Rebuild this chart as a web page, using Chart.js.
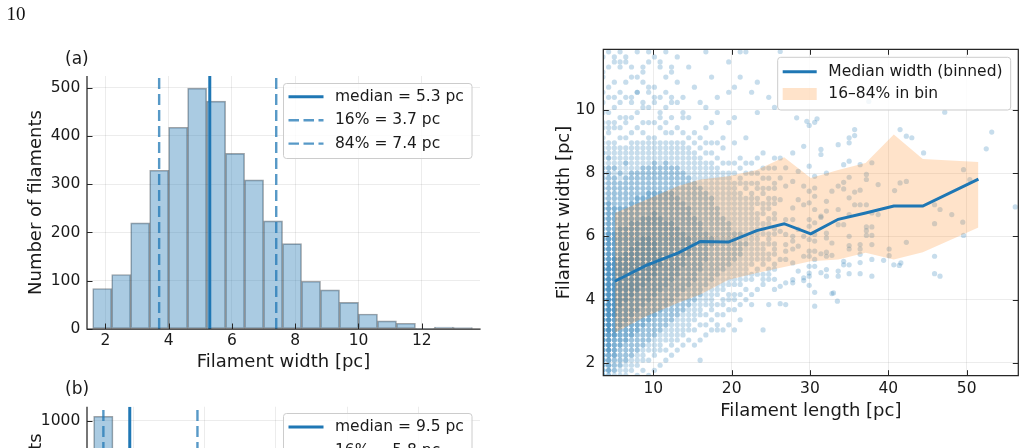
<!DOCTYPE html>
<html><head><meta charset="utf-8">
<script src="https://cdn.jsdelivr.net/npm/chart.js@4.4.0/dist/chart.umd.min.js"></script>
<style>
html,body{margin:0;padding:0;width:1026px;height:448px;overflow:hidden;background:#fff;}
canvas{position:absolute;}
#pg{position:absolute;left:6.5px;top:4px;font:19px/19px "Liberation Serif","DejaVu Serif",serif;color:#111;}
</style></head><body>
<canvas id="ca" width="500" height="380" style="left:0;top:0"></canvas>
<canvas id="cb" width="500" height="316" style="left:0;top:380px"></canvas>
<canvas id="cc" width="486" height="448" style="left:540px;top:0"></canvas>
<div id="pg">10</div>
<script>
// ---------- panel (a): filament width histogram ----------
const widthBinCenters = [1.9,2.5,3.1,3.7,4.3,4.9,5.5,6.1,6.7,7.3,7.9,8.5,9.1,9.7,10.3,10.9,11.5,12.1,12.7,13.3];
const widthCounts = [84,113,220,329,418,499,472,364,309,224,177,99,81,55,31,17,12,1,4,3];
const widthMedian = 5.3, widthP16 = 3.7, widthP84 = 7.4;
const widthTicks = [2,4,6,8,10,12];
const countTicksA = [0,100,200,300,400,500];

// ---------- panel (b): filament length histogram (only its top is visible) ----------
const lengthBinCenters = [5.79,8.51,11.23,13.95,16.67,19.39,22.11,24.83,27.55,30.27,32.99,35.71,38.43,41.15,43.87,46.59,49.31,52.03,54.75,57.47];
const lengthCounts = [1020,840,460,300,210,175,130,100,75,55,40,30,22,17,12,9,7,5,3,2];
const lengthMedian = 9.5, lengthP16 = 5.8, lengthP84 = 19.0;
const lengthTicksB = [10,20,30,40,50];
const countTicksB = [0,200,400,600,800,1000];

// ---------- right panel: width vs length ----------
const lengthTicks = [10,20,30,40,50];
const widthTicksY = [2,4,6,8,10];
const medianLength = [5.1,9.1,13.2,16.0,19.6,23.2,26.7,30.1,33.6,37.1,40.7,44.4,51.5];
const medianWidth  = [4.58,5.08,5.48,5.84,5.82,6.18,6.40,6.08,6.54,6.74,6.96,6.96,7.81];
const band16 = [2.95,3.47,3.90,4.16,4.63,4.84,5.03,5.21,5.27,5.48,5.27,5.50,6.28];
const band84 = [6.74,7.16,7.59,7.80,7.90,8.10,8.50,7.85,8.10,8.32,9.22,8.45,8.35];

// measured widths/lengths are quantised: rows of widths and columns of lengths
const widthLevels = [1.60,1.76,1.92,2.08,2.24,2.40,2.56,2.72,2.88,3.04,3.20,3.36,3.52,3.68,3.84,4.00,4.16,4.32,4.48,4.64,4.80,4.96,5.12,5.28,5.44,5.60,5.76,5.92,6.08,6.24,6.40,6.56,6.72,6.88,7.04,7.20,7.36,7.52,7.68,7.84,8.00,8.16,8.32,8.48,8.64,8.80,8.96,9.12,9.28,9.44,9.60,9.76,9.92,10.08,10.24,10.40,10.56,10.72,10.88,11.04,11.20,11.36,11.52,11.68,11.84];
const scatterColLength = [3.57,4.30,5.03,5.76,6.49,7.22,7.95,8.68,9.41,10.14,10.87,11.60,12.33,13.06,13.79,14.52,15.25,15.98,16.71,17.44,18.17,18.90,19.63,20.36,21.09,21.82,22.55,23.28,24.01,24.74,25.47];
// number of filaments in each (length column, width row) cell, rows from 1.60 pc upward
const scatterCellCounts = [
[3,3,3,4,4, 4,4,5,5,5, 5,5,5,5,5, 5,5,5,5,5, 5,5,4,4,4, 4,4,4,3,3, 3,3,3,3,3, 2,2,2,2,2, 2,2,1,1,2, 1,1,1,0,1, 1,0,1,0,1, 0,1,0,0,1, 1,0,0,1,0],
[2,3,3,3,3, 4,4,4,4,5, 5,5,5,5,5, 5,5,5,5,5, 5,5,5,4,4, 4,4,4,4,3, 3,3,3,3,3, 2,2,2,2,2, 2,2,1,2,1, 1,1,0,1,1, 1,0,1,0,0, 1,0,1,0,0, 0,1,0,0,1],
[1,2,2,2,3, 3,3,3,4,4, 4,4,5,5,5, 5,5,5,5,5, 5,5,5,5,4, 4,4,4,4,3, 3,3,3,3,2, 2,2,2,2,2, 1,2,1,1,1, 1,1,0,0,1, 1,0,0,1,0, 1,0,0,1,0, 0,0,1,0,0],
[1,1,2,2,2, 2,3,3,3,3, 4,4,4,4,5, 5,5,5,5,5, 5,5,5,5,4, 4,4,4,4,4, 3,3,3,3,2, 2,2,2,2,1, 2,1,1,1,1, 1,0,1,0,1, 0,1,0,0,1, 0,1,0,0,0, 0,0,1,0,1],
[1,1,1,2,2, 2,2,3,3,3, 3,4,4,4,4, 5,5,5,5,5, 5,5,5,5,5, 4,4,4,4,4, 3,3,3,3,2, 2,2,2,2,2, 1,1,2,1,1, 1,0,1,0,0, 1,1,0,0,0, 1,0,0,0,0, 0,0,0,1,0],
[0,1,1,1,2, 2,2,2,3,3, 3,3,4,4,4, 4,5,5,5,5, 5,5,5,5,5, 5,4,4,4,4, 4,3,3,3,3, 2,2,2,2,2, 2,1,1,1,1, 1,1,0,1,0, 0,1,0,0,0, 1,0,0,0,0, 0,1,0,0,0],
[1,0,1,1,1, 2,2,2,2,3, 3,3,3,4,4, 4,4,5,5,5, 5,5,5,5,5, 5,5,4,4,4, 4,3,3,3,3, 3,2,2,2,2, 2,1,1,1,1, 1,1,0,0,1, 0,0,1,0,0, 0,1,0,0,1, 0,0,0,0,0],
[0,1,0,1,1, 1,2,2,2,2, 3,3,3,3,4, 4,4,4,5,5, 5,5,5,5,5, 5,5,5,4,4, 4,4,3,3,3, 3,2,2,2,2, 2,2,1,1,1, 1,1,0,1,0, 1,0,0,0,1, 0,0,0,1,0, 0,1,0,0,0],
[1,0,0,1,0, 1,1,2,2,2, 2,3,3,3,3, 4,4,4,4,5, 5,5,5,5,5, 5,5,5,4,4, 4,4,3,3,3, 3,3,2,2,2, 2,2,1,1,1, 1,1,1,0,0, 1,0,0,1,0, 0,1,0,0,0, 0,0,0,0,1],
[0,1,0,0,1, 1,1,1,2,2, 2,2,3,3,3, 3,4,4,4,4, 5,5,5,5,5, 5,5,4,4,4, 4,4,4,3,3, 3,3,2,2,2, 2,2,2,1,1, 1,1,1,0,0, 1,0,0,0,1, 0,0,1,0,0, 0,0,0,0,0],
[0,0,1,0,0, 1,1,1,1,2, 2,2,2,3,3, 3,3,4,4,4, 4,4,5,5,5, 4,4,4,4,4, 4,4,3,3,3, 3,3,2,2,2, 2,2,1,1,1, 1,1,0,0,1, 0,1,0,0,0, 1,0,0,0,0, 0,0,1,0,0],
[0,0,0,1,0, 1,0,1,1,1, 2,2,2,2,3, 3,3,3,4,4, 4,4,4,4,4, 4,4,4,4,4, 4,3,3,3,3, 3,3,2,2,2, 2,2,2,1,1, 1,1,0,1,0, 1,0,0,1,0, 0,0,0,0,1, 0,0,0,0,0],
[0,0,0,0,1, 0,1,1,1,1, 1,2,2,2,2, 3,3,3,3,4, 4,4,4,4,4, 4,4,4,4,4, 4,3,3,3,3, 3,3,2,2,2, 2,2,1,1,1, 1,1,0,1,0, 0,1,0,0,0, 1,0,0,0,0, 0,1,0,0,0],
[0,0,0,0,0, 1,0,1,1,1, 1,1,2,2,2, 2,3,3,3,3, 4,4,4,4,4, 4,4,4,4,4, 3,3,3,3,3, 3,2,2,2,2, 2,2,1,1,1, 1,1,0,0,1, 0,0,0,0,1, 0,0,0,0,0, 0,0,0,1,0],
[0,0,0,0,0, 0,1,0,1,1, 1,1,1,2,2, 2,2,3,3,3, 3,3,4,4,4, 4,4,4,4,3, 3,3,3,3,3, 2,2,2,2,2, 2,1,1,1,1, 1,1,0,1,0, 0,0,1,0,0, 1,0,0,0,0, 0,0,0,0,0],
[0,0,0,0,0, 0,0,1,0,1, 1,1,1,1,2, 2,2,2,3,3, 3,3,3,3,4, 4,4,4,3,3, 3,3,3,3,2, 2,2,2,2,2, 1,1,1,1,1, 1,0,1,0,0, 0,1,0,0,0, 0,0,0,0,0, 0,0,0,0,0],
[0,0,0,0,0, 0,1,0,0,1, 0,1,1,1,1, 2,2,2,2,3, 3,3,3,3,3, 3,3,3,3,3, 3,3,2,2,2, 2,2,2,2,1, 1,1,1,1,1, 0,1,0,1,0, 0,0,0,0,0, 0,0,0,0,0, 0,0,0,0,0],
[0,0,0,1,0, 0,0,1,0,0, 1,0,1,1,1, 1,2,2,2,2, 2,3,3,3,3, 3,3,3,3,3, 3,2,2,2,2, 2,2,2,1,1, 1,1,1,1,0, 1,0,1,0,0, 0,0,0,0,1, 0,0,0,0,0, 0,0,0,0,0],
[0,0,0,0,0, 0,0,0,1,0, 1,0,1,0,1, 1,1,1,2,2, 2,2,2,3,3, 3,3,3,3,2, 2,2,2,2,2, 2,2,1,1,1, 1,1,1,0,1, 0,1,0,0,1, 0,0,0,0,0, 0,0,0,0,0, 0,0,0,0,1],
[0,0,0,0,0, 0,0,0,0,1, 0,1,0,1,1, 1,1,1,1,2, 2,2,2,2,2, 2,3,3,2,2, 2,2,2,2,2, 2,1,1,1,1, 1,1,1,0,1, 0,1,0,0,0, 1,0,0,0,0, 0,0,0,0,0, 0,0,0,0,0],
[0,0,0,0,0, 0,0,0,0,1, 1,0,1,0,1, 0,1,1,1,1, 2,2,2,2,2, 2,2,2,2,2, 2,2,2,2,1, 1,1,1,1,1, 1,1,0,1,0, 0,1,0,0,0, 0,0,1,0,0, 0,0,0,0,0, 0,0,0,0,0],
[0,0,0,0,0, 0,0,0,0,1, 0,0,1,0,1, 1,0,1,1,1, 1,2,2,2,2, 2,2,2,2,2, 2,2,1,1,1, 1,1,1,1,1, 1,0,1,0,0, 1,0,1,0,0, 0,0,0,0,0, 0,0,0,0,0, 0,0,0,0,0],
[0,0,0,0,0, 0,0,0,0,0, 1,0,0,1,0, 1,1,0,1,1, 1,1,2,2,2, 2,2,2,2,2, 2,1,1,1,1, 1,1,1,1,1, 1,0,1,0,0, 0,0,0,0,0, 1,0,0,0,0, 0,1,0,0,0, 0,0,0,0,0],
[0,0,0,0,0, 0,0,0,0,1, 0,0,0,1,0, 1,1,0,1,1, 1,1,1,2,2, 2,2,2,2,1, 1,1,1,1,1, 1,1,1,1,0, 1,0,1,0,0, 0,1,0,0,0, 0,0,0,0,0, 0,0,1,0,0, 0,0,0,0,0],
[0,0,0,0,0, 0,0,0,0,0, 0,1,0,0,1, 0,1,0,1,1, 1,1,1,1,2, 2,2,1,2,1, 1,1,1,1,1, 1,1,0,1,1, 0,1,0,1,0, 0,0,0,0,0, 0,0,0,0,0, 0,0,0,0,1, 0,0,0,0,1],
[0,0,0,0,0, 0,0,0,0,0, 0,0,0,0,0, 1,0,1,0,1, 1,1,1,1,1, 1,2,1,1,1, 1,1,1,1,1, 1,0,1,1,0, 1,0,1,0,0, 0,0,1,0,0, 0,0,0,0,0, 0,0,0,0,0, 0,0,0,0,1],
[0,0,0,0,0, 0,0,0,0,0, 0,0,0,0,1, 0,1,0,0,1, 1,0,1,1,1, 1,1,1,1,1, 1,1,1,1,1, 1,1,0,1,0, 1,0,1,0,0, 0,0,0,0,0, 0,0,0,0,0, 0,1,0,0,0, 0,0,0,0,0],
[0,0,0,0,0, 0,0,0,0,0, 0,0,0,0,0, 0,0,1,0,0, 1,1,0,1,1, 1,1,1,1,1, 1,1,1,0,1, 1,0,1,1,0, 1,0,0,1,0, 0,0,0,0,0, 0,0,0,0,0, 0,0,0,1,0, 0,0,0,0,0],
[0,0,0,0,0, 0,0,0,0,1, 0,0,0,0,0, 0,0,0,1,1, 1,0,1,1,1, 1,1,0,1,1, 1,0,1,1,1, 0,1,1,0,1, 0,1,0,0,1, 0,0,0,0,0, 0,0,0,0,0, 0,0,0,0,0, 0,0,0,0,0],
[0,0,0,0,0, 0,0,0,0,0, 0,0,0,0,1, 0,0,0,0,1, 1,1,0,1,1, 0,1,1,1,0, 1,1,0,1,1, 1,0,1,0,1, 0,1,0,0,0, 0,0,0,0,0, 0,0,0,0,0, 1,0,0,0,0, 0,0,0,0,0],
[0,0,0,0,0, 0,0,0,0,0, 0,0,0,0,0, 0,0,1,0,1, 0,1,1,0,1, 1,1,0,1,1, 0,1,1,0,1, 1,0,1,1,0, 0,1,0,1,0, 0,0,0,0,0, 0,0,0,1,0, 0,0,0,0,0, 0,0,0,0,0]
];
// individual filaments read one by one: [length, width]
const scatterExtra = [
[5.03,11.68],[5.76,11.36],[6.49,10.88],[6.49,11.52],[7.22,10.24],[7.22,11.04],[7.95,10.56],[7.95,11.84],
[8.68,10.08],[8.68,11.20],[9.41,10.72],[9.41,11.52],[10.14,10.40],[10.14,11.68],[10.87,9.92],[10.87,11.36],
[11.60,10.56],[11.60,11.84],[12.33,10.24],[12.33,11.20],[13.06,10.88],[13.79,9.76],[14.52,11.36],[15.25,10.72],
[16.71,10.08],[17.44,11.04],[18.17,10.40],[19.63,11.52],[20.36,9.76],[23.28,9.92],
[26.2,11.85],[26.2,8.48],[26.2,7.85],[26.2,7.16],[26.2,6.16],[26.2,5.27],[26.2,4.42],[26.2,3.87],
[26.9,8.17],[26.9,7.59],[26.9,6.53],[26.9,6.06],[26.9,5.74],[26.9,5.53],[26.9,5.27],[26.9,4.53],[26.9,3.84],
[27.8,8.64],[27.8,7.74],[27.8,6.9],[27.8,6.53],[27.8,6.0],[27.8,5.85],[27.8,5.6],[27.8,5.16],[27.8,4.63],[27.8,4.53],
[28.3,9.75],[28.5,8.06],[28.5,7.16],[28.5,6.22],[28.5,5.69],[28.5,4.9],
[29.2,8.85],[29.2,7.59],[29.2,7.0],[29.2,6.0],[29.2,5.37],[29.2,4.69],[29.2,4.6],[29.6,9.64],
[29.9,9.51],[29.9,8.22],[29.9,7.43],[29.9,7.06],[29.9,6.53],[29.9,6.32],[29.9,5.9],[29.9,5.53],[29.9,5.37],[29.9,5.05],[29.9,4.84],[29.9,4.74],[29.9,4.45],
[30.6,9.61],[30.6,7.9],[30.6,7.53],[30.6,7.27],[30.6,6.85],[30.6,6.43],[30.6,6.06],[30.6,5.85],[30.6,5.53],[30.6,5.27],[30.6,5.05],[30.6,4.23],[30.6,3.79],[30.9,9.72],
[31.4,8.75],[31.4,8.59],[31.4,6.64],[31.4,6.6],[31.4,5.45],[31.4,4.85],
[32.1,8.0],[32.1,7.11],[32.1,6.8],[32.1,6.1],[32.1,5.95],[32.1,5.5],[32.1,5.37],[32.1,4.95],[32.1,4.74],
[32.8,7.43],[32.8,5.79],[32.8,5.4],[32.8,4.19],[33.0,4.21],[33.5,3.95],
[33.6,8.9],[33.6,7.59],[33.6,6.85],[33.6,6.37],[33.6,4.9],[33.6,4.74],
[34.3,8.27],[34.3,7.71],[34.3,7.5],[34.3,6.37],[34.3,5.21],[34.3,5.1],
[35.0,9.12],[35.0,8.96],[35.0,8.38],[35.0,7.87],[35.0,7.22],[35.0,6.69],[35.0,6.0],[35.0,5.71],[35.0,5.6],[35.0,5.1],[35.0,4.82],
[35.7,9.38],[35.7,9.19],[35.7,7.4],[35.7,7.0],
[36.4,8.27],[36.4,7.46],[36.4,7.0],[36.4,5.74],[36.4,5.6],[36.4,5.43],[36.4,5.17],[36.4,4.82],
[37.2,7.96],[37.2,7.8],[37.2,7.0],[37.2,6.3],[37.2,6.18],[37.2,6.03],[37.5,10.27],
[37.9,8.33],[37.9,6.74],[37.9,6.3],[37.9,6.03],[37.9,5.74],[37.9,5.27],[37.9,4.74],
[38.7,7.64],[38.7,6.69],[39.4,5.24],[40.1,5.6],[40.1,5.39],[40.8,7.45],[40.7,5.1],[41.4,5.08],[41.6,5.16],
[41.5,9.38],[41.5,7.69],[42.3,9.17],[42.3,7.74],[42.3,5.81],[43.0,9.12],[44.5,8.64],
[45.9,7.0],[45.9,6.4],[45.9,5.37],[45.9,4.82],[46.6,6.85],[46.6,4.74],[47.2,9.93],[48.1,6.69],
[49.5,6.45],[49.6,8.11],[49.6,6.03],[50.4,7.8],[52.5,8.77],[53.2,9.3],[56.2,6.93]
];

// ---------- styling constants ----------
const FONT = "'DejaVu Sans', 'Noto Sans', sans-serif";
const TXT = '#1a1a1a';
const BLUE = '#1f77b4';
const BLUE_DASH = 'rgba(31,119,180,0.75)';
const HIST_FILL = 'rgba(31,119,180,0.38)';
const HIST_EDGE = 'rgba(40,50,60,0.45)';
const GRID = 'rgba(0,0,0,0.075)';
const SPINE = '#262626';
const BAND = 'rgba(255,127,14,0.22)';
const DOT = 'rgba(31,119,180,0.25)';
Chart.defaults.font.family = FONT;
Chart.defaults.color = TXT;

const tickFont = {family: FONT, size: 15.5};
const titleFont = {family: FONT, size: 18};
const fmt = v => String(v);

const decorCfg = {
  ca: {ticks: 'lb', spines: 'lb', label: {text: '(a)', x: 65, y: 64},
       legend: {x: 283.5, y: 83.5, w: 188.5, h: 75, hx0: 288.5, hx1: 323.5, tx: 335,
         rows: [{kind: 'solid', y: 96.7, label: 'median = ' + widthMedian.toFixed(1) + ' pc'},
                {kind: 'dash', y: 120.3, label: '16% = ' + widthP16.toFixed(1) + ' pc'},
                {kind: 'dash', y: 143.6, label: '84% = ' + widthP84.toFixed(1) + ' pc'}]}},
  cb: {ticks: 'lb', spines: 'lb', label: {text: '(b)', x: 65, y: 14},
       legend: {x: 283.5, y: 33.5, w: 188.5, h: 75, hx0: 288.5, hx1: 323.5, tx: 335,
         rows: [{kind: 'solid', y: 47, label: 'median = ' + lengthMedian.toFixed(1) + ' pc'},
                {kind: 'dash', y: 70.5, label: '16% = ' + lengthP16.toFixed(1) + ' pc'},
                {kind: 'dash', y: 93.8, label: '84% = ' + lengthP84.toFixed(1) + ' pc'}]}},
  cc: {ticks: 'lbtr', spines: 'lbtr', label: null,
       legend: {x: 237.7, y: 57.3, w: 233, h: 52.7, hx0: 242.7, hx1: 276.7, tx: 288.3,
         rows: [{kind: 'solid', y: 71.7, label: 'Median width (binned)'},
                {kind: 'patch', y: 94, label: '16\u201384% in bin'}]}}
};

function drawLegend(ctx, L) {
  ctx.save();
  const r = 3;
  ctx.beginPath();
  ctx.moveTo(L.x + r, L.y);
  ctx.lineTo(L.x + L.w - r, L.y); ctx.arcTo(L.x + L.w, L.y, L.x + L.w, L.y + r, r);
  ctx.lineTo(L.x + L.w, L.y + L.h - r); ctx.arcTo(L.x + L.w, L.y + L.h, L.x + L.w - r, L.y + L.h, r);
  ctx.lineTo(L.x + r, L.y + L.h); ctx.arcTo(L.x, L.y + L.h, L.x, L.y + L.h - r, r);
  ctx.lineTo(L.x, L.y + r); ctx.arcTo(L.x, L.y, L.x + r, L.y, r);
  ctx.closePath();
  ctx.fillStyle = 'rgba(255,255,255,0.8)';
  ctx.fill();
  ctx.strokeStyle = '#cccccc'; ctx.lineWidth = 1; ctx.stroke();
  L.rows.forEach(row => {
    ctx.setLineDash([]);
    if (row.kind === 'solid') {
      ctx.strokeStyle = BLUE; ctx.lineWidth = 3;
      ctx.beginPath(); ctx.moveTo(L.hx0, row.y); ctx.lineTo(L.hx1, row.y); ctx.stroke();
    } else if (row.kind === 'dash') {
      ctx.strokeStyle = BLUE_DASH; ctx.lineWidth = 2.4; ctx.setLineDash([10.5, 4.5]);
      ctx.beginPath(); ctx.moveTo(L.hx0, row.y); ctx.lineTo(L.hx1, row.y); ctx.stroke();
    } else {
      ctx.fillStyle = BAND;
      ctx.fillRect(L.hx0, row.y - 6, L.hx1 - L.hx0, 12);
    }
    ctx.setLineDash([]);
    ctx.fillStyle = TXT;
    ctx.font = '15.5px ' + FONT;
    ctx.textBaseline = 'middle';
    ctx.textAlign = 'left';
    ctx.fillText(row.label, L.tx, row.y);
  });
  ctx.restore();
}

const decor = {
  id: 'decor',
  afterDatasetsDraw(chart) {
    const c = decorCfg[chart.canvas.id]; if (!c) return;
    const ctx = chart.ctx, a = chart.chartArea, xs = chart.scales.x, ys = chart.scales.y;
    const T = 5.5;
    ctx.save();
    ctx.setLineDash([]);
    ctx.strokeStyle = SPINE; ctx.lineWidth = 1;
    ctx.beginPath();
    xs.ticks.forEach(t => {
      const p = Math.round(xs.getPixelForValue(t.value)) + 0.5;
      if (p < a.left - 1 || p > a.right + 1) return;
      if (c.ticks.includes('b')) { ctx.moveTo(p, a.bottom); ctx.lineTo(p, a.bottom - T); }
      if (c.ticks.includes('t')) { ctx.moveTo(p, a.top); ctx.lineTo(p, a.top + T); }
    });
    ys.ticks.forEach(t => {
      const p = Math.round(ys.getPixelForValue(t.value)) + 0.5;
      if (p < a.top - 1 || p > a.bottom + 1) return;
      if (c.ticks.includes('l')) { ctx.moveTo(a.left, p); ctx.lineTo(a.left + T, p); }
      if (c.ticks.includes('r')) { ctx.moveTo(a.right, p); ctx.lineTo(a.right - T, p); }
    });
    ctx.stroke();
    ctx.lineWidth = 1.25;
    ctx.beginPath();
    if (c.spines.includes('l')) { ctx.moveTo(a.left, a.top); ctx.lineTo(a.left, a.bottom); }
    if (c.spines.includes('b')) { ctx.moveTo(a.left - 0.6, a.bottom); ctx.lineTo(a.right + 0.6, a.bottom); }
    if (c.spines.includes('t')) { ctx.moveTo(a.left - 0.6, a.top); ctx.lineTo(a.right + 0.6, a.top); }
    if (c.spines.includes('r')) { ctx.moveTo(a.right, a.top); ctx.lineTo(a.right, a.bottom); }
    ctx.stroke();
    ctx.restore();
  },
  afterDraw(chart) {
    const c = decorCfg[chart.canvas.id]; if (!c) return;
    const ctx = chart.ctx;
    if (c.legend) drawLegend(ctx, c.legend);
    if (c.label) {
      ctx.save();
      ctx.fillStyle = TXT; ctx.font = '17px ' + FONT;
      ctx.textBaseline = 'alphabetic'; ctx.textAlign = 'left';
      ctx.fillText(c.label.text, c.label.x, c.label.y);
      ctx.restore();
    }
  }
};

function vline(x, top, dashed) {
  return {type: 'line', data: [{x: x, y: 0}, {x: x, y: top}],
    borderColor: dashed ? BLUE_DASH : BLUE, borderWidth: dashed ? 2.4 : 3,
    borderDash: dashed ? [11, 5] : [], pointRadius: 0, fill: false, order: 1, clip: 0};
}

function histChart(id, centers, counts, med, p16, p84, xr, yr, xt, yt, padTop, xTitle) {
  const bars = centers.map((c, i) => ({x: c, y: counts[i]}));
  return new Chart(document.getElementById(id), {
    type: 'bar',
    data: {datasets: [
      {type: 'bar', data: bars, backgroundColor: HIST_FILL, borderColor: HIST_EDGE, borderWidth: 1,
       borderSkipped: false, barPercentage: 1, categoryPercentage: 1, order: 2, clip: 0},
      vline(med, yr[1], false), vline(p16, yr[1], true), vline(p84, yr[1], true)
    ]},
    options: {
      responsive: false, animation: false, events: [],
      layout: {padding: {left: 0, top: padTop, right: 20, bottom: 0}},
      plugins: {legend: {display: false}, tooltip: {enabled: false}},
      scales: {
        x: {type: 'linear', min: xr[0], max: xr[1], offset: false,
            grid: {color: GRID, lineWidth: 1, drawTicks: false, offset: false},
            border: {display: false},
            ticks: {font: tickFont, padding: 3, autoSkip: false, maxRotation: 0, callback: fmt},
            afterBuildTicks: s => { s.ticks = xt.map(v => ({value: v})); },
            afterFit: s => { s.height = 51; },
            title: {display: true, text: xTitle, font: titleFont, padding: {top: 0, bottom: 6.7}}},
        y: {type: 'linear', min: yr[0], max: yr[1],
            grid: {color: GRID, lineWidth: 1, drawTicks: false},
            border: {display: false},
            ticks: {font: tickFont, padding: 6.7, callback: fmt},
            afterBuildTicks: s => { s.ticks = yt.map(v => ({value: v})); },
            afterFit: s => { s.width = 87; },
            title: {display: true, text: 'Number of filaments', font: titleFont, padding: {top: 25.2, bottom: 0}}}
      }
    },
    plugins: [decor]
  });
}

histChart('ca', widthBinCenters, widthCounts, widthMedian, widthP16, widthP84,
  [1.42, 13.84], [0, 524.2], widthTicks, countTicksA, 76, 'Filament width [pc]');
histChart('cb', lengthBinCenters, lengthCounts, lengthMedian, lengthP16, lengthP84,
  [3.5, 58.65], [0, 1062.4], lengthTicksB, countTicksB, 26.7, 'Filament length [pc]');

// ---------- right scatter chart ----------
const scatterPts = [];
scatterColLength.forEach((x, c) => {
  scatterCellCounts[c].forEach((n, i) => {
    for (let k = 0; k < n; k++) scatterPts.push({x: x, y: widthLevels[i]});
  });
});
scatterExtra.forEach(p => scatterPts.push({x: p[0], y: p[1]}));
const toPts = (xs, ys) => xs.map((x, i) => ({x: x, y: ys[i]}));

new Chart(document.getElementById('cc'), {
  type: 'scatter',
  data: {datasets: [
    {type: 'scatter', data: scatterPts, backgroundColor: DOT, borderColor: 'transparent',
     pointRadius: 2.6, pointBorderWidth: 0, order: 3, clip: 0},
    {type: 'line', data: toPts(medianLength, band84), borderColor: 'transparent', borderWidth: 1,
     pointRadius: 0, fill: '+1', backgroundColor: BAND, order: 2, clip: 0, tension: 0},
    {type: 'line', data: toPts(medianLength, band16), borderColor: 'transparent', borderWidth: 1,
     pointRadius: 0, fill: false, order: 2, clip: 0, tension: 0},
    {type: 'line', data: toPts(medianLength, medianWidth), borderColor: BLUE, borderWidth: 3,
     pointRadius: 0, fill: false, order: 1, clip: 0, tension: 0}
  ]},
  options: {
    responsive: false, animation: false, events: [],
    layout: {padding: {left: 0, top: 49.3, right: 7.7, bottom: 0}},
    plugins: {legend: {display: false}, tooltip: {enabled: false}},
    scales: {
      x: {type: 'linear', min: 3.62, max: 56.59,
          grid: {color: GRID, lineWidth: 1, drawTicks: false},
          border: {display: false},
          ticks: {font: tickFont, padding: 4, autoSkip: false, maxRotation: 0, callback: fmt},
          afterBuildTicks: s => { s.ticks = lengthTicks.map(v => ({value: v})); },
          afterFit: s => { s.height = 72.3; },
          title: {display: true, text: 'Filament length [pc]', font: titleFont, padding: {top: 0, bottom: 26.2}}},
      y: {type: 'linear', min: 1.59, max: 11.92,
          grid: {color: GRID, lineWidth: 1, drawTicks: false},
          border: {display: false},
          ticks: {font: tickFont, padding: 8, callback: fmt},
          afterBuildTicks: s => { s.ticks = widthTicksY.map(v => ({value: v})); },
          afterFit: s => { s.width = 63.3; },
          title: {display: true, text: 'Filament width [pc]', font: titleFont, padding: {top: 13.2, bottom: 0}}}
    }
  },
  plugins: [decor]
});
</script>
</body></html>
